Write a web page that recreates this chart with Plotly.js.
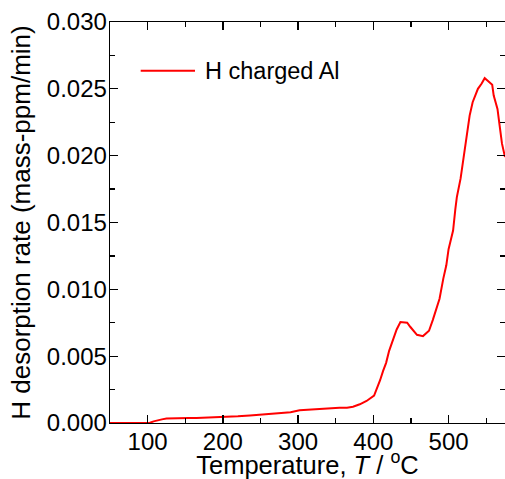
<!DOCTYPE html>
<html>
<head>
<meta charset="utf-8">
<script src="https://cdn.plot.ly/plotly-3.0.1.min.js"></script>
<style>html,body{margin:0;padding:0;background:#fff;}#chart{width:505px;height:479px;}</style>
</head>
<body>
<div id="chart"></div>
<script>
// Temperature (°C)
const temperature = [50, 80, 100, 103, 108, 113, 119, 125, 135, 145, 155, 165, 175, 185, 200, 220, 236, 250, 260, 275, 290, 302, 315, 330, 342, 355, 365, 373, 382, 391, 401, 405, 409, 413, 417, 421, 425, 431, 436, 441, 445, 449, 453, 458, 466, 470, 474, 479, 483, 488, 493, 497, 500, 506, 509, 511, 516, 520, 524, 526, 528, 532, 539, 544, 548, 552, 558, 560, 565, 568, 571, 575];
// H desorption rate (mass-ppm/min)
const desorptionRate = [0, 0, 0, 0.00002, 0.00012, 0.0002, 0.00027, 0.00033, 0.00036, 0.00037, 0.00037, 0.00037, 0.00039, 0.0004, 0.00043, 0.0005, 0.00057, 0.00062, 0.00065, 0.0007, 0.0008, 0.00095, 0.001, 0.00108, 0.00114, 0.00115, 0.00115, 0.00122, 0.0014, 0.00165, 0.00205, 0.0026, 0.0032, 0.0039, 0.0045, 0.0054, 0.0061, 0.007, 0.00755, 0.0075, 0.0075, 0.0072, 0.0069, 0.0066, 0.0065, 0.0067, 0.0069, 0.0077, 0.0084, 0.0093, 0.0108, 0.0118, 0.013, 0.0144, 0.016, 0.0169, 0.0183, 0.0199, 0.0212, 0.0219, 0.023, 0.024, 0.025, 0.0254, 0.0258, 0.0256, 0.0253, 0.0245, 0.0235, 0.0222, 0.0209, 0.0199];
const seriesName = 'H charged Al';
const xTickValues = [100, 200, 300, 400, 500];
const yTickValues = [0, 0.005, 0.010, 0.015, 0.020, 0.025, 0.030];

const FONT = 'Arial, "Liberation Sans", sans-serif';

const axisCommon = {
  showline: true, linecolor: '#000', linewidth: 1.3, mirror: 'ticks',
  ticks: 'inside', ticklen: 8, tickwidth: 1.3, tickcolor: '#000',
  showgrid: false, zeroline: false, ticklabelstandoff: -3,
  tickfont: {family: FONT, size: 24, color: '#000'}
};

const data = [{
  x: temperature, y: desorptionRate, type: 'scatter', mode: 'lines',
  name: seriesName, line: {color: '#ff0000', width: 2}, showlegend: false
}];

const layout = {
  width: 505, height: 479,
  margin: {l: 110, r: 0, t: 22, b: 56, pad: 0},
  paper_bgcolor: '#fff', plot_bgcolor: '#fff',
  font: {family: FONT, color: '#000'},
  xaxis: Object.assign({}, axisCommon, {
    range: [50, 575], tickvals: xTickValues, ticktext: xTickValues.map(String),
    minor: {dtick: 50, tick0: 0, ticks: 'inside', ticklen: 5, tickwidth: 1.3, tickcolor: '#000'},
    title: {text: 'Temperature, <i>T</i> / <sup>o</sup>C', font: {family: FONT, size: 25.5, color: '#000'}, standoff: 0}
  }),
  yaxis: Object.assign({}, axisCommon, {
    range: [0, 0.030], tickvals: yTickValues, ticktext: yTickValues.map(v => v.toFixed(3)),
    minor: {dtick: 0.0025, tick0: 0, ticks: 'inside', ticklen: 5, tickwidth: 1.3, tickcolor: '#000'},
    title: {text: 'H desorption rate (mass-ppm/min)', font: {family: FONT, size: 26, color: '#000'}, standoff: 8}
  }),
  shapes: [{
    type: 'line', xref: 'paper', yref: 'paper', x0: 0.0777, x1: 0.2152, y0: 0.8785, y1: 0.8785,
    line: {color: '#ff0000', width: 2}
  }],
  annotations: [{
    xref: 'paper', yref: 'paper', x: 0.2354, y: 0.8785, xanchor: 'left', yanchor: 'middle',
    text: seriesName, showarrow: false, font: {family: FONT, size: 23.5, color: '#000'}
  }]
};

Plotly.newPlot('chart', data, layout, {displayModeBar: false, staticPlot: true});
</script>
</body>
</html>
